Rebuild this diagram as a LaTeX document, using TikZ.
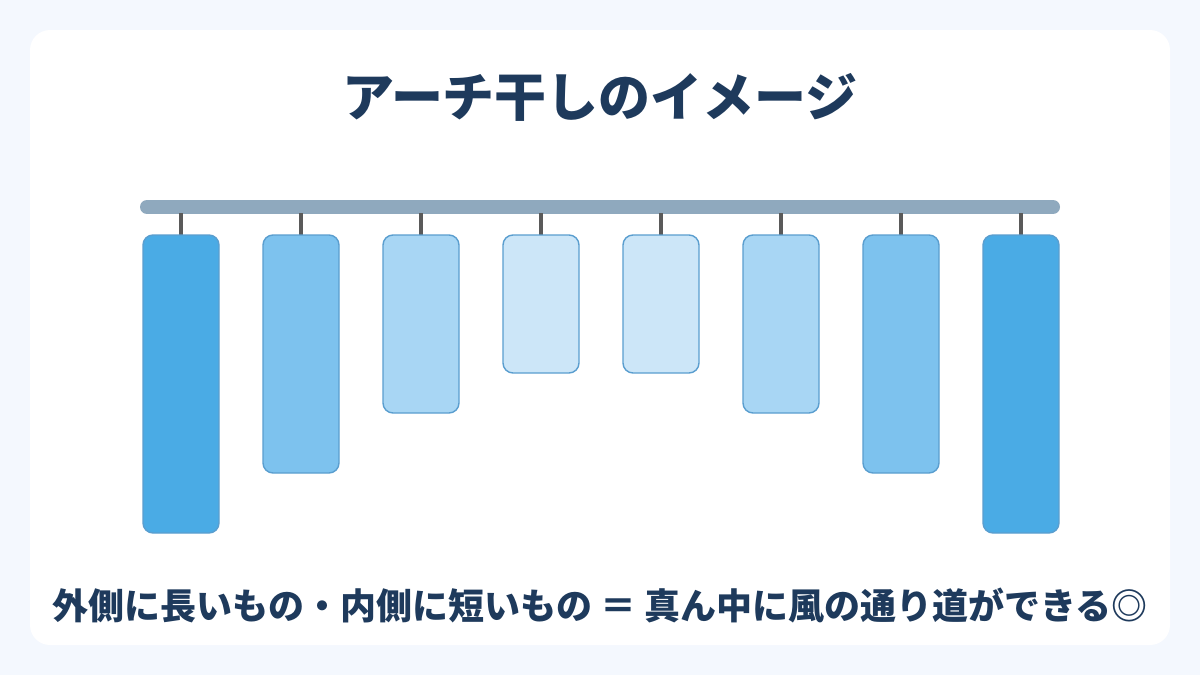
\documentclass[tikz,border=0pt]{standalone}
\usepackage{fontspec}
\newfontfamily\jp{Noto Sans CJK JP}
\definecolor{bgc}{HTML}{F4F8FE}
\definecolor{rodc}{HTML}{8FA9BE}
\definecolor{hookc}{HTML}{5A5A5A}
\definecolor{titlec}{HTML}{1E3A5C}
\definecolor{edgec}{HTML}{5A9ECF}
\definecolor{c1}{HTML}{4AABE5}
\definecolor{c2}{HTML}{7DC2EE}
\definecolor{c3}{HTML}{A8D6F4}
\definecolor{c4}{HTML}{CCE6F8}
\tikzset{
  towel/.style={draw=edgec, line width=1.4pt, rounded corners=10pt},
  hookline/.style={draw=hookc, line width=3.2pt},
  txt/.style={inner sep=0pt, text=titlec, font=\jp\bfseries}
}
\begin{document}
\begin{tikzpicture}[x=1pt,y=-1pt]
\fill[bgc] (0,0) rectangle (1200,675);
\useasboundingbox (0,0) rectangle (1200,675);
\fill[white, rounded corners=20pt] (30,30) rectangle (1170,645);
\node[txt, font=\jp\bfseries\fontsize{52}{60}\selectfont] (title) at (600,97) {アーチ干しのイメージ};
\draw[rodc, line width=14pt, line cap=round] (147,207) -- (1053,207);
\foreach \i/\x/\b/\c in {1/181/533/c1, 2/301/473/c2, 3/421/413/c3, 4/541/373/c4, 5/661/373/c4, 6/781/413/c3, 7/901/473/c2, 8/1021/533/c1} {
  \coordinate (h\i) at (\x,213);
  \coordinate (t\i) at (\x,235);
  \draw[hookline] (h\i) -- (t\i);
  \path[towel, fill=\c] (\x-38,235) rectangle (\x+38,\b);
}
\node[txt, font=\jp\bfseries\fontsize{36}{42}\selectfont] (note) at (600,605) {外側に長いもの・内側に短いもの ＝ 真ん中に風の通り道ができる◎};
\end{tikzpicture}
\end{document}
